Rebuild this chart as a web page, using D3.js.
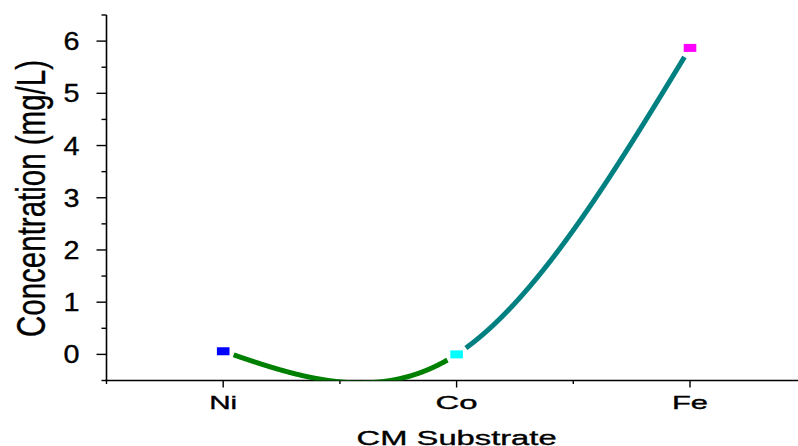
<!DOCTYPE html>
<html>
<head>
<meta charset="utf-8">
<script src="https://cdn.jsdelivr.net/npm/d3@7"></script>
<style>
  html, body { margin: 0; padding: 0; background: #fff; }
  svg { display: block; }
  text { font-family: "Liberation Sans", Arial, sans-serif; fill: #000; stroke: #000; stroke-width: 0.35px; }
</style>
</head>
<body>
<div id="chart"></div>
<script>

// Data

var categories = ["Ni", "Co", "Fe"];
var concentration = [0.06, 0.0, 5.87];
var markerColors = ["#0000ff", "#00ffff", "#ff00ff"];
var segmentColors = ["#008000", "#008080"];
var yTicks = [0, 1, 2, 3, 4, 5, 6];

var chart = {};

chart.width = 798;
chart.height = 446;

chart.init = function(){

    // svg init

    chart.svg = d3.select("#chart").append("svg")
        .attr("width", chart.width)
        .attr("height", chart.height);

    chart.x = d3.scaleLinear().domain([0.5, 3.5]).range([106.5, 806.7]);
    chart.y = d3.scaleLinear().domain([-0.5, 6.5]).range([380.5, 15]);

    chart.svg.append("clipPath").attr("id", "plotClip")
        .append("rect")
        .attr("x", chart.x(0.5))
        .attr("y", chart.y(6.5))
        .attr("width", chart.x(3.5) - chart.x(0.5))
        .attr("height", chart.y(-0.5) - chart.y(6.5));
};

chart.axes = function(){

    var x = chart.x, y = chart.y, svg = chart.svg;

    // y axis, major ticks on integers, minor on halves

    var yAxis = svg.append("g").attr("transform", "translate(" + x(0.5) + ",0)");
    yAxis.append("line")
        .attr("y1", y(6.5)).attr("y2", y(-0.5))
        .attr("stroke", "#000").attr("stroke-width", 1.6);

    var yMinor = d3.range(-0.5, 6.6, 1);
    yAxis.selectAll(".yminor").data(yMinor).enter().append("line")
        .attr("x1", -5).attr("x2", 0)
        .attr("y1", function(d){ return y(d); })
        .attr("y2", function(d){ return y(d); })
        .attr("stroke", "#000").attr("stroke-width", 1.4);

    yAxis.selectAll(".ymajor").data(yTicks).enter().append("line")
        .attr("x1", -10).attr("x2", 0)
        .attr("y1", function(d){ return y(d); })
        .attr("y2", function(d){ return y(d); })
        .attr("stroke", "#000").attr("stroke-width", 1.4);

    yAxis.selectAll(".ylabel").data(yTicks).enter().append("text")
        .attr("x", -27)
        .attr("y", function(d){ return y(d); })
        .attr("dy", "0.36em")
        .attr("text-anchor", "end")
        .attr("font-size", 25)
        .attr("textLength", 16)
        .attr("lengthAdjust", "spacingAndGlyphs")
        .text(function(d){ return d; });

    // x axis

    var xAxis = svg.append("g").attr("transform", "translate(0," + y(-0.5) + ")");
    xAxis.append("line")
        .attr("x1", x(0.5) - 1).attr("x2", chart.width)
        .attr("stroke", "#000").attr("stroke-width", 1.6);

    xAxis.selectAll(".xminor").data([0.5, 1.5, 2.5, 3.5]).enter().append("line")
        .attr("x1", function(d){ return x(d); })
        .attr("x2", function(d){ return x(d); })
        .attr("y1", 0).attr("y2", 3.5)
        .attr("stroke", "#000").attr("stroke-width", 1.4);

    xAxis.selectAll(".xmajor").data(categories).enter().append("line")
        .attr("x1", function(d, i){ return x(i + 1); })
        .attr("x2", function(d, i){ return x(i + 1); })
        .attr("y1", 0).attr("y2", 7)
        .attr("stroke", "#000").attr("stroke-width", 1.4);

    var labelWidths = [28, 42, 36];
    xAxis.selectAll(".xlabel").data(categories).enter().append("text")
        .attr("x", function(d, i){ return x(i + 1); })
        .attr("y", 28.5)
        .attr("text-anchor", "middle")
        .attr("font-size", 18.5)
        .attr("textLength", function(d, i){ return labelWidths[i]; })
        .attr("lengthAdjust", "spacingAndGlyphs")
        .text(function(d){ return d; });

    // titles

    svg.append("text")
        .attr("x", x(2))
        .attr("y", 445)
        .attr("text-anchor", "middle")
        .attr("font-size", 20)
        .attr("textLength", 200)
        .attr("lengthAdjust", "spacingAndGlyphs")
        .text("CM Substrate");

    svg.append("text")
        .attr("transform", "translate(45,198.5) rotate(-90)")
        .attr("text-anchor", "middle")
        .attr("font-size", 40)
        .attr("textLength", 277)
        .attr("lengthAdjust", "spacingAndGlyphs")
        .text("Concentration (mg/L)");
};

chart.render = function(){

    var x = chart.x, y = chart.y, svg = chart.svg;

    // spline through the points, hidden, used to sample segments

    var line = d3.line()
        .x(function(d, i){ return x(i + 1); })
        .y(function(d){ return y(d); })
        .curve(d3.curveNatural);

    var guide = svg.append("path")
        .attr("d", line(concentration))
        .attr("fill", "none")
        .attr("stroke", "none");

    var node = guide.node();
    var total = node.getTotalLength();
    var samples = d3.range(0, total + 0.5, 0.5).map(function(l){
        var p = node.getPointAtLength(Math.min(l, total));
        return {l: l, x: p.x, y: p.y};
    });

    // arc length at each point
    var lengths = concentration.map(function(v, i){
        var px = x(i + 1), py = y(v);
        var best = samples[0], bd = Infinity;
        samples.forEach(function(s){
            var dd = (s.x - px) * (s.x - px) + (s.y - py) * (s.y - py);
            if (dd < bd){ bd = dd; best = s; }
        });
        return best.l;
    });

    var gap = 11;
    var plot = svg.append("g").attr("clip-path", "url(#plotClip)");

    segmentColors.forEach(function(c, i){
        var a = lengths[i] + gap, b = lengths[i + 1] - gap;
        var pts = samples.filter(function(s){ return s.l >= a && s.l <= b; });
        plot.append("path")
            .attr("d", d3.line().x(function(s){ return s.x; }).y(function(s){ return s.y; })(pts))
            .attr("fill", "none")
            .attr("stroke", c)
            .attr("stroke-width", 5);
    });

    // square markers

    svg.selectAll(".marker").data(concentration).enter().append("rect")
        .attr("x", function(d, i){ return x(i + 1) - 6.3; })
        .attr("y", function(d){ return y(d) - 4; })
        .attr("width", 12.6)
        .attr("height", 8)
        .attr("fill", function(d, i){ return markerColors[i]; });
};

// main

chart.init();
chart.axes();
chart.render();

</script>
</body>
</html>
